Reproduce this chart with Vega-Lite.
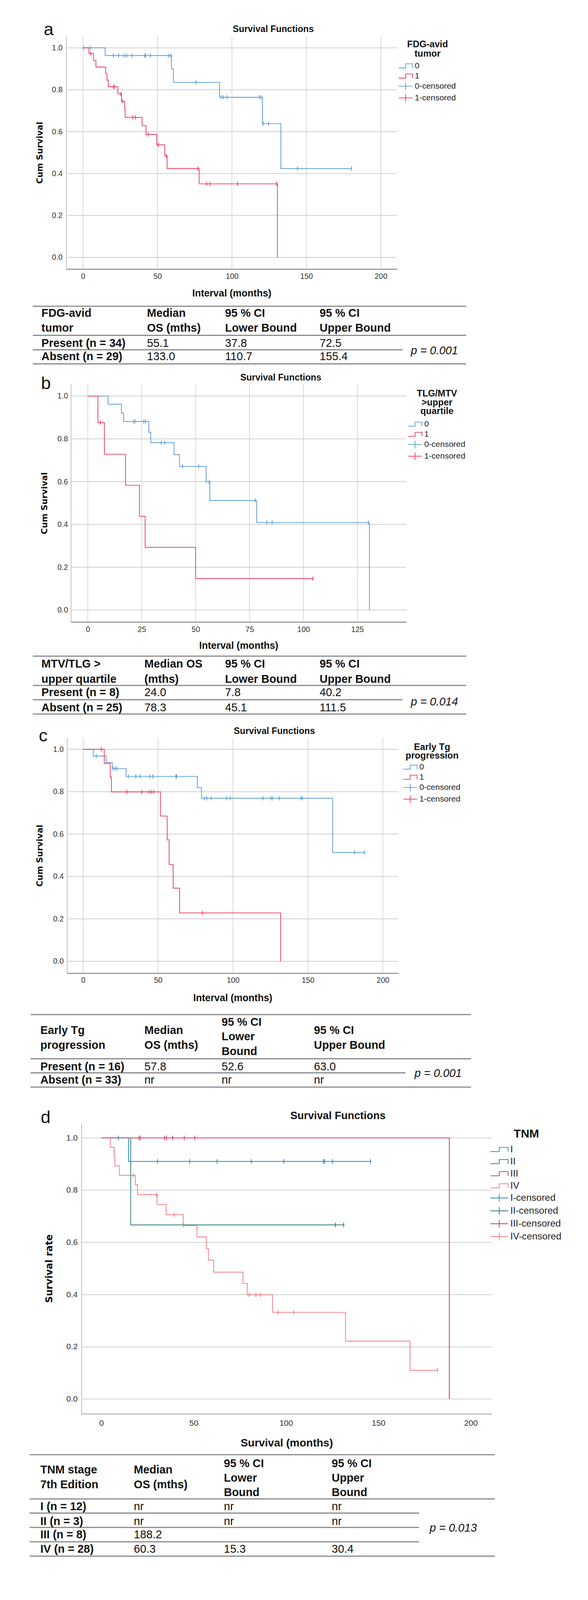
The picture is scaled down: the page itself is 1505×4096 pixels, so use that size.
{
"$schema": "https://vega.github.io/schema/vega-lite/v6.json",
"background": "white",
"autosize": {"type": "pad"},
"padding": {"left": 74.3, "top": 0, "right": 0, "bottom": 0},
"config": {
  "font": "Liberation Sans",
  "view": {"stroke": null},
  "axis": {"ticks": false, "grid": false, "labelColor": "#333333", "titleColor": "#111111", "titleFontWeight": "bold", "labelFont": "Liberation Sans", "labelOverlap": false, "labelFlush": false},
  "legend": {"labelFont": "Liberation Sans", "titleFont": "Liberation Sans", "labelColor": "#222222", "titleColor": "#111111", "padding": 0, "symbolStrokeWidth": 1.8, "symbolFillColor": "transparent"},
  "text": {"color": "#111111", "font": "Liberation Sans"}
},
"spacing": 0,
"bounds": "full",
"resolve": {"scale": {"x": "independent", "y": "independent", "color": "independent", "shape": "independent"}, "axis": {"x": "independent", "y": "independent"}, "legend": {"color": "independent", "shape": "independent"}},
"vconcat": [
{
  "spacing": 0, "bounds": "flush",
  "resolve": {"scale": {"x": "independent", "y": "independent"}, "axis": {"x": "independent", "y": "independent"}},
  "hconcat": [
    {
      "width": 94.5, "height": 947.2,
      "data": {"values": [
        {"kind":"letter","text":"a","col":8,"row":9},
        {"kind":"title","text":"Survival Functions","col":9,"row":10},
        {"kind":"rule","row":0,"col":0,"col2":7},{"kind":"rule","row":3,"col":0,"col2":7},{"kind":"rule","row":5,"col":0,"col2":5},{"kind":"rule","row":7,"col":0,"col2":7},
        {"kind":"head","row":1,"col":1,"text":"FDG-avid"},{"kind":"head","row":2,"col":1,"text":"tumor"},{"kind":"head","row":1,"col":2,"text":"Median"},{"kind":"head","row":2,"col":2,"text":"OS (mths)"},{"kind":"head","row":1,"col":3,"text":"95 % CI"},{"kind":"head","row":2,"col":3,"text":"Lower Bound"},{"kind":"head","row":1,"col":4,"text":"95 % CI"},{"kind":"head","row":2,"col":4,"text":"Upper Bound"},
        {"kind":"label","row":4,"col":1,"text":"Present (n = 34)"},{"kind":"label","row":6,"col":1,"text":"Absent (n = 29)"},
        {"kind":"value","row":4,"col":2,"text":"55.1"},{"kind":"value","row":4,"col":3,"text":"37.8"},{"kind":"value","row":4,"col":4,"text":"72.5"},
        {"kind":"value","row":6,"col":2,"text":"133.0"},{"kind":"value","row":6,"col":3,"text":"110.7"},{"kind":"value","row":6,"col":4,"text":"155.4"},
        {"kind":"p","row":8,"col":6,"text":"p = 0.001"}
      ]},
      "encoding": {
        "x": {"field": "col", "type": "quantitative", "scale": {"domain": [0,1,2,3,4,5,6,7,8,9], "range": [9.6,31.8,301.9,501.6,743.7,956.0,977.2,1119.0,37.7,625.1], "nice": false, "zero": false}, "axis": null},
        "y": {"field": "row", "type": "quantitative", "scale": {"domain": [0,1,2,3,4,5,6,7,8,9,10], "range": [783.9,802.3,840.1,858.5,879.0,895.5,913.2,931.4,897.8,90.0,81.9], "nice": false, "zero": false}, "axis": null}
      },
      "layer": [
        {"transform": [{"filter": "datum.kind === 'rule'"}], "mark": {"type": "rule", "strokeWidth": 3, "stroke": "#8a8a8a"}, "encoding": {"x2": {"field": "col2"}}},
        {"transform": [{"filter": "datum.kind === 'head' || datum.kind === 'label'"}], "mark": {"type": "text", "align": "left", "baseline": "middle", "fontSize": 28.8, "fontWeight": "bold"}, "encoding": {"text": {"field": "text"}}},
        {"transform": [{"filter": "datum.kind === 'value'"}], "mark": {"type": "text", "align": "left", "baseline": "middle", "fontSize": 28.8}, "encoding": {"text": {"field": "text"}}},
        {"transform": [{"filter": "datum.kind === 'p'"}], "mark": {"type": "text", "align": "left", "baseline": "middle", "fontSize": 28.8, "fontStyle": "italic"}, "encoding": {"text": {"field": "text"}}},
        {"transform": [{"filter": "datum.kind === 'letter'"}], "mark": {"type": "text", "align": "left", "baseline": "alphabetic", "fontSize": 45}, "encoding": {"text": {"field": "text"}}},
        {"transform": [{"filter": "datum.kind === 'title'"}], "mark": {"type": "text", "align": "center", "baseline": "alphabetic", "fontSize": 23.2, "fontWeight": "bold"}, "encoding": {"text": {"field": "text"}}}
      ]
    },
    {
      "width": 847.0, "height": 947.2,
      "encoding": {
        "x": {"field": "t", "type": "quantitative", "scale": {"domain": [-11.3, 210.9], "nice": false, "zero": false},
              "axis": {"values": [0, 50, 100, 150, 200], "format": "d", "title": "Interval (months)", "offset": -258.4, "domainColor": "#707070", "domainWidth": 2, "labelFontSize": 19.5, "labelPadding": 9.3, "titleFontSize": 25, "titlePadding": 21.9}},
        "y": {"field": "s", "type": "quantitative", "scale": {"domain": [-0.0557, 1.0557], "range": [688.8, 92.5], "nice": false, "zero": false},
              "axis": {"values": [0, 0.2, 0.4, 0.6, 0.8, 1], "format": ".1f", "title": "Cum Survival", "domainColor": "#a9a9a9", "domainWidth": 1.4, "labelFontSize": 19.5, "labelPadding": 9.6, "titleFont": "DejaVu Sans", "titleFontSize": 21.4, "titlePadding": 20.2}}
      },
      "layer": [
        {"data": {"values": [{"s":0,"t":-11.3,"t2":210.9},{"s":0.2,"t":-11.3,"t2":210.9},{"s":0.4,"t":-11.3,"t2":210.9},{"s":0.6,"t":-11.3,"t2":210.9},{"s":0.8,"t":-11.3,"t2":210.9},{"s":1,"t":-11.3,"t2":210.9}]}, "mark": {"type": "rule", "stroke": "#cfcfcf", "strokeWidth": 2}, "encoding": {"x2": {"field": "t2"}}},
        {"data": {"values": [{"t":0,"s":-0.0557,"s2":1.0557},{"t":50,"s":-0.0557,"s2":1.0557},{"t":100,"s":-0.0557,"s2":1.0557},{"t":150,"s":-0.0557,"s2":1.0557},{"t":200,"s":-0.0557,"s2":1.0557}]}, "mark": {"type": "rule", "stroke": "#cfcfcf", "strokeWidth": 1.5}, "encoding": {"y2": {"field": "s2"}}},
        {
          "data": {"values": [
            {"grp":"0","t":0,"s":1},{"grp":"0","t":14.9,"s":0.963},{"grp":"0","t":59.5,"s":0.899},{"grp":"0","t":60.7,"s":0.835},{"grp":"0","t":91.7,"s":0.764},{"grp":"0","t":120.5,"s":0.638},{"grp":"0","t":132.9,"s":0.424},{"grp":"0","t":180.3,"s":0.424},
            {"grp":"1","t":0,"s":1},{"grp":"1","t":4.0,"s":0.973},{"grp":"1","t":7.1,"s":0.939},{"grp":"1","t":8.7,"s":0.908},{"grp":"1","t":15.2,"s":0.877},{"grp":"1","t":16.1,"s":0.846},{"grp":"1","t":17.0,"s":0.814},{"grp":"1","t":23.4,"s":0.781},{"grp":"1","t":25.9,"s":0.745},{"grp":"1","t":28.0,"s":0.707},{"grp":"1","t":28.3,"s":0.668},{"grp":"1","t":39.7,"s":0.629},{"grp":"1","t":42.3,"s":0.587},{"grp":"1","t":49.6,"s":0.537},{"grp":"1","t":54.9,"s":0.484},{"grp":"1","t":56.5,"s":0.424},{"grp":"1","t":78.0,"s":0.351},{"grp":"1","t":130.6,"s":0}
          ]},
          "mark": {"type": "line", "interpolate": "step-after", "strokeWidth": 1.9},
          "encoding": {"color": {"field": "grp", "type": "nominal",
            "scale": {"domain": ["0","1","0-censored","1-censored"], "range": ["#5b9bd5","#ec3a5e","#5b9bd5","#ec3a5e"]},
            "legend": {"title": ["FDG-avid","tumor"], "orient": "none", "legendX": 948.0, "legendY": 102.3, "titleFontSize": 23.5, "titleFontWeight": "bold", "titleLineHeight": 23.4, "titleAnchor": "middle", "titleAlign": "center", "titlePadding": 3.5, "labelFontSize": 21, "labelOffset": 7.5, "symbolSize": 900, "rowPadding": 0}}}
        },
        {
          "data": {"values": [
            {"grp":"0-censored","t":0.3,"s":1},{"grp":"0-censored","t":5.1,"s":1},{"grp":"0-censored","t":20.4,"s":0.963},{"grp":"0-censored","t":23.9,"s":0.963},{"grp":"0-censored","t":27.6,"s":0.963},{"grp":"0-censored","t":29.4,"s":0.963},{"grp":"0-censored","t":32.8,"s":0.963},{"grp":"0-censored","t":41.5,"s":0.963},{"grp":"0-censored","t":42.1,"s":0.963},{"grp":"0-censored","t":45.2,"s":0.963},{"grp":"0-censored","t":57.3,"s":0.963},{"grp":"0-censored","t":58.9,"s":0.963},{"grp":"0-censored","t":75.9,"s":0.835},{"grp":"0-censored","t":92.9,"s":0.764},{"grp":"0-censored","t":94.2,"s":0.764},{"grp":"0-censored","t":96.7,"s":0.764},{"grp":"0-censored","t":118.5,"s":0.764},{"grp":"0-censored","t":119.5,"s":0.764},{"grp":"0-censored","t":121.0,"s":0.638},{"grp":"0-censored","t":124.6,"s":0.638},{"grp":"0-censored","t":144.1,"s":0.424},{"grp":"0-censored","t":180.3,"s":0.424},
            {"grp":"1-censored","t":5.1,"s":0.973},{"grp":"1-censored","t":20.4,"s":0.814},{"grp":"1-censored","t":21.1,"s":0.814},{"grp":"1-censored","t":25.4,"s":0.781},{"grp":"1-censored","t":26.3,"s":0.745},{"grp":"1-censored","t":33.5,"s":0.668},{"grp":"1-censored","t":35.3,"s":0.668},{"grp":"1-censored","t":43.8,"s":0.587},{"grp":"1-censored","t":50.6,"s":0.537},{"grp":"1-censored","t":55.9,"s":0.484},{"grp":"1-censored","t":77.2,"s":0.424},{"grp":"1-censored","t":83.0,"s":0.351},{"grp":"1-censored","t":85.3,"s":0.351},{"grp":"1-censored","t":103.8,"s":0.351},{"grp":"1-censored","t":130.1,"s":0.351}
          ]},
          "mark": {"type": "point", "shape": "M0,-1V1M-0.3,0H0.3", "filled": false, "size": 121, "strokeWidth": 1.8, "opacity": 1},
          "encoding": {"color": {"field": "grp", "type": "nominal", "scale": {"domain": ["0","1","0-censored","1-censored"], "range": ["#5b9bd5","#ec3a5e","#5b9bd5","#ec3a5e"]}, "legend": null}}
        },
        {
          "data": {"values": []},
          "mark": {"type": "point", "filled": false, "strokeWidth": 1.8, "opacity": 1},
          "encoding": {
            "color": {"field": "grp", "type": "nominal",
              "scale": {"domain": ["0","1","0-censored","1-censored"], "range": ["#5b9bd5","#ec3a5e","#5b9bd5","#ec3a5e"]},
              "legend": {"title": ["FDG-avid","tumor"], "orient": "none", "legendX": 948.0, "legendY": 102.3, "titleFontSize": 23.5, "titleFontWeight": "bold", "titleLineHeight": 23.4, "titleAnchor": "middle", "titleAlign": "center", "titlePadding": 3.5, "labelFontSize": 21, "labelOffset": 7.5, "symbolSize": 900, "rowPadding": 0}},
            "shape": {"field": "grp", "type": "nominal",
              "scale": {"domain": ["0","1","0-censored","1-censored"], "range": ["M-1.18,0.354H0V-0.354H1.18V0.354","M-1.18,0.354H0V-0.354H1.18V0.354","M-1.18,0H1.18M0,-0.65V0.65","M-1.18,0H1.18M0,-0.65V0.65"]},
              "legend": {"title": ["FDG-avid","tumor"], "orient": "none", "legendX": 948.0, "legendY": 102.3, "titleFontSize": 23.5, "titleFontWeight": "bold", "titleLineHeight": 23.4, "titleAnchor": "middle", "titleAlign": "center", "titlePadding": 3.5, "labelFontSize": 21, "labelOffset": 7.5, "symbolSize": 900, "rowPadding": 0}}
          }
        }
      ]
    }
  ]
},
{
  "spacing": 0, "bounds": "flush",
  "resolve": {"scale": {"x": "independent", "y": "independent"}, "axis": {"x": "independent", "y": "independent"}},
  "hconcat": [
    {
      "width": 107.0, "height": 896.9,
      "data": {"values": [
        {"kind":"letter","text":"b","col":8,"row":9},
        {"kind":"title","text":"Survival Functions","col":9,"row":10},
        {"kind":"rule","row":0,"col":0,"col2":7},{"kind":"rule","row":3,"col":0,"col2":7},{"kind":"rule","row":5,"col":0,"col2":5},{"kind":"rule","row":7,"col":0,"col2":7},
        {"kind":"head","row":1,"col":1,"text":"MTV/TLG >"},{"kind":"head","row":2,"col":1,"text":"upper quartile"},{"kind":"head","row":1,"col":2,"text":"Median OS"},{"kind":"head","row":2,"col":2,"text":"(mths)"},{"kind":"head","row":1,"col":3,"text":"95 % CI"},{"kind":"head","row":2,"col":3,"text":"Lower Bound"},{"kind":"head","row":1,"col":4,"text":"95 % CI"},{"kind":"head","row":2,"col":4,"text":"Upper Bound"},
        {"kind":"label","row":4,"col":1,"text":"Present (n = 8)"},{"kind":"label","row":6,"col":1,"text":"Absent (n = 25)"},
        {"kind":"value","row":4,"col":2,"text":"24.0"},{"kind":"value","row":4,"col":3,"text":"7.8"},{"kind":"value","row":4,"col":4,"text":"40.2"},
        {"kind":"value","row":6,"col":2,"text":"78.3"},{"kind":"value","row":6,"col":3,"text":"45.1"},{"kind":"value","row":6,"col":4,"text":"111.5"},
        {"kind":"p","row":8,"col":6,"text":"p = 0.014"}
      ]},
      "encoding": {
        "x": {"field": "col", "type": "quantitative", "scale": {"domain": [0,1,2,3,4,5,6,7,8,9], "range": [9.6,31.8,295.2,501.6,743.7,956.0,977.2,1119.0,30.7,644.4], "nice": false, "zero": false}, "axis": null},
        "y": {"field": "row", "type": "quantitative", "scale": {"domain": [0,1,2,3,4,5,6,7,8,9,10], "range": [731.8,751.8,790.7,806.8,824.9,843.3,863.9,879.9,848.6,48.1,26.3], "nice": false, "zero": false}, "axis": null}
      },
      "layer": [
        {"transform": [{"filter": "datum.kind === 'rule'"}], "mark": {"type": "rule", "strokeWidth": 3, "stroke": "#8a8a8a"}, "encoding": {"x2": {"field": "col2"}}},
        {"transform": [{"filter": "datum.kind === 'head' || datum.kind === 'label'"}], "mark": {"type": "text", "align": "left", "baseline": "middle", "fontSize": 28.8, "fontWeight": "bold"}, "encoding": {"text": {"field": "text"}}},
        {"transform": [{"filter": "datum.kind === 'value'"}], "mark": {"type": "text", "align": "left", "baseline": "middle", "fontSize": 28.8}, "encoding": {"text": {"field": "text"}}},
        {"transform": [{"filter": "datum.kind === 'p'"}], "mark": {"type": "text", "align": "left", "baseline": "middle", "fontSize": 28.8, "fontStyle": "italic"}, "encoding": {"text": {"field": "text"}}},
        {"transform": [{"filter": "datum.kind === 'letter'"}], "mark": {"type": "text", "align": "left", "baseline": "alphabetic", "fontSize": 45}, "encoding": {"text": {"field": "text"}}},
        {"transform": [{"filter": "datum.kind === 'title'"}], "mark": {"type": "text", "align": "center", "baseline": "alphabetic", "fontSize": 23.2, "fontWeight": "bold"}, "encoding": {"text": {"field": "text"}}}
      ]
    },
    {
      "width": 858.6, "height": 896.9,
      "encoding": {
        "x": {"field": "t", "type": "quantitative", "scale": {"domain": [-7.86, 147.7], "nice": false, "zero": false},
              "axis": {"values": [0, 25, 50, 75, 100, 125], "format": "d", "title": "Interval (months)", "offset": -252.7, "domainColor": "#707070", "domainWidth": 2, "labelFontSize": 19.5, "labelPadding": 9.9, "titleFontSize": 25, "titlePadding": 20.3}},
        "y": {"field": "s", "type": "quantitative", "scale": {"domain": [-0.0556, 1.0556], "range": [644.2, 35.4], "nice": false, "zero": false},
              "axis": {"values": [0, 0.2, 0.4, 0.6, 0.8, 1], "format": ".1f", "title": "Cum Survival", "domainColor": "#a9a9a9", "domainWidth": 1.4, "labelFontSize": 19.5, "labelPadding": 7.7, "titleFont": "DejaVu Sans", "titleFontSize": 21.4, "titlePadding": 22.0}}
      },
      "layer": [
        {"data": {"values": [{"s":0,"t":-7.86,"t2":147.7},{"s":0.2,"t":-7.86,"t2":147.7},{"s":0.4,"t":-7.86,"t2":147.7},{"s":0.6,"t":-7.86,"t2":147.7},{"s":0.8,"t":-7.86,"t2":147.7},{"s":1,"t":-7.86,"t2":147.7}]}, "mark": {"type": "rule", "stroke": "#cfcfcf", "strokeWidth": 2}, "encoding": {"x2": {"field": "t2"}}},
        {"data": {"values": [{"t":0,"s":-0.0556,"s2":1.0556},{"t":25,"s":-0.0556,"s2":1.0556},{"t":50,"s":-0.0556,"s2":1.0556},{"t":75,"s":-0.0556,"s2":1.0556},{"t":100,"s":-0.0556,"s2":1.0556},{"t":125,"s":-0.0556,"s2":1.0556}]}, "mark": {"type": "rule", "stroke": "#cfcfcf", "strokeWidth": 1.5}, "encoding": {"y2": {"field": "s2"}}},
        {
          "data": {"values": [
            {"grp":"0","t":0,"s":1},{"grp":"0","t":9.4,"s":0.962},{"grp":"0","t":15.6,"s":0.92},{"grp":"0","t":16.6,"s":0.881},{"grp":"0","t":28.3,"s":0.831},{"grp":"0","t":29.2,"s":0.782},{"grp":"0","t":40.0,"s":0.726},{"grp":"0","t":42.5,"s":0.671},{"grp":"0","t":54.9,"s":0.599},{"grp":"0","t":56.6,"s":0.512},{"grp":"0","t":78.3,"s":0.409},{"grp":"0","t":130.6,"s":0},
            {"grp":"1","t":0,"s":1},{"grp":"1","t":4.7,"s":0.876},{"grp":"1","t":7.7,"s":0.728},{"grp":"1","t":17.5,"s":0.583},{"grp":"1","t":24.0,"s":0.438},{"grp":"1","t":26.6,"s":0.293},{"grp":"1","t":50.0,"s":0.147},{"grp":"1","t":104.4,"s":0.147}
          ]},
          "mark": {"type": "line", "interpolate": "step-after", "strokeWidth": 1.9},
          "encoding": {"color": {"field": "grp", "type": "nominal",
            "scale": {"domain": ["0","1","0-censored","1-censored"], "range": ["#5b9bd5","#ec3a5e","#5b9bd5","#ec3a5e"]},
            "legend": {"title": ["TLG/MTV",">upper","quartile"], "orient": "none", "legendX": 972.1, "legendY": 48.4, "titleFontSize": 23.5, "titleFontWeight": "bold", "titleLineHeight": 22.5, "titleAnchor": "middle", "titleAlign": "center", "titlePadding": 5, "labelFontSize": 21, "labelOffset": 7.5, "symbolSize": 900, "rowPadding": 0}}}
        },
        {
          "data": {"values": [
            {"grp":"0-censored","t":21.3,"s":0.881},{"grp":"0-censored","t":21.9,"s":0.881},{"grp":"0-censored","t":25.9,"s":0.881},{"grp":"0-censored","t":26.7,"s":0.881},{"grp":"0-censored","t":34.1,"s":0.782},{"grp":"0-censored","t":35.7,"s":0.782},{"grp":"0-censored","t":43.9,"s":0.671},{"grp":"0-censored","t":51.4,"s":0.671},{"grp":"0-censored","t":56.3,"s":0.599},{"grp":"0-censored","t":77.6,"s":0.512},{"grp":"0-censored","t":83.0,"s":0.409},{"grp":"0-censored","t":85.5,"s":0.409},{"grp":"0-censored","t":130.1,"s":0.409},
            {"grp":"1-censored","t":5.8,"s":0.876},{"grp":"1-censored","t":104.4,"s":0.147}
          ]},
          "mark": {"type": "point", "shape": "M0,-1V1M-0.3,0H0.3", "filled": false, "size": 121, "strokeWidth": 1.8, "opacity": 1},
          "encoding": {"color": {"field": "grp", "type": "nominal", "scale": {"domain": ["0","1","0-censored","1-censored"], "range": ["#5b9bd5","#ec3a5e","#5b9bd5","#ec3a5e"]}, "legend": null}}
        },
        {
          "data": {"values": []},
          "mark": {"type": "point", "filled": false, "strokeWidth": 1.8, "opacity": 1},
          "encoding": {
            "color": {"field": "grp", "type": "nominal",
              "scale": {"domain": ["0","1","0-censored","1-censored"], "range": ["#5b9bd5","#ec3a5e","#5b9bd5","#ec3a5e"]},
              "legend": {"title": ["TLG/MTV",">upper","quartile"], "orient": "none", "legendX": 972.1, "legendY": 48.4, "titleFontSize": 23.5, "titleFontWeight": "bold", "titleLineHeight": 22.5, "titleAnchor": "middle", "titleAlign": "center", "titlePadding": 5, "labelFontSize": 21, "labelOffset": 7.5, "symbolSize": 900, "rowPadding": 0}},
            "shape": {"field": "grp", "type": "nominal",
              "scale": {"domain": ["0","1","0-censored","1-censored"], "range": ["M-1.18,0.354H0V-0.354H1.18V0.354","M-1.18,0.354H0V-0.354H1.18V0.354","M-1.18,0H1.18M0,-0.65V0.65","M-1.18,0H1.18M0,-0.65V0.65"]},
              "legend": {"title": ["TLG/MTV",">upper","quartile"], "orient": "none", "legendX": 972.1, "legendY": 48.4, "titleFontSize": 23.5, "titleFontWeight": "bold", "titleLineHeight": 22.5, "titleAnchor": "middle", "titleAlign": "center", "titlePadding": 5, "labelFontSize": 21, "labelOffset": 7.5, "symbolSize": 900, "rowPadding": 0}}
          }
        }
      ]
    }
  ]
},
{
  "spacing": 0, "bounds": "flush",
  "resolve": {"scale": {"x": "independent", "y": "independent"}, "axis": {"x": "independent", "y": "independent"}},
  "hconcat": [
    {
      "width": 96.4, "height": 969.8,
      "data": {"values": [
        {"kind":"letter","text":"c","col":8,"row":12},
        {"kind":"title","text":"Survival Functions","col":9,"row":13},
        {"kind":"rule","row":0,"col":0,"col2":7},{"kind":"rule","row":6,"col":0,"col2":7},{"kind":"rule","row":8,"col":0,"col2":5},{"kind":"rule","row":10,"col":0,"col2":7},
        {"kind":"head","row":2,"col":1,"text":"Early Tg"},{"kind":"head","row":4,"col":1,"text":"progression"},{"kind":"head","row":2,"col":2,"text":"Median"},{"kind":"head","row":4,"col":2,"text":"OS (mths)"},{"kind":"head","row":1,"col":3,"text":"95 % CI"},{"kind":"head","row":3,"col":3,"text":"Lower"},{"kind":"head","row":5,"col":3,"text":"Bound"},{"kind":"head","row":2,"col":4,"text":"95 % CI"},{"kind":"head","row":4,"col":4,"text":"Upper Bound"},
        {"kind":"label","row":7,"col":1,"text":"Present (n = 16)"},{"kind":"label","row":9,"col":1,"text":"Absent (n = 33)"},
        {"kind":"value","row":7,"col":2,"text":"57.8"},{"kind":"value","row":7,"col":3,"text":"52.6"},{"kind":"value","row":7,"col":4,"text":"63.0"},
        {"kind":"value","row":9,"col":2,"text":"nr"},{"kind":"value","row":9,"col":3,"text":"nr"},{"kind":"value","row":9,"col":4,"text":"nr"},
        {"kind":"p","row":11,"col":6,"text":"p = 0.001"}
      ]},
      "encoding": {
        "x": {"field": "col", "type": "quantitative", "scale": {"domain": [0,1,2,3,4,5,6,7,8,9], "range": [3.8,28.9,295.2,492.9,729.3,963.7,986.8,1131.6,25.0,628.0], "nice": false, "zero": false}, "axis": null},
        "y": {"field": "row", "type": "quantitative", "scale": {"domain": [0,1,2,3,4,5,6,7,8,9,10,11,12,13], "range": [752.3,771.6,792.8,809.3,830.6,847.1,865.6,886.1,901.4,920.3,938.0,902.6,53.1,34.3], "nice": false, "zero": false}, "axis": null}
      },
      "layer": [
        {"transform": [{"filter": "datum.kind === 'rule'"}], "mark": {"type": "rule", "strokeWidth": 3, "stroke": "#8a8a8a"}, "encoding": {"x2": {"field": "col2"}}},
        {"transform": [{"filter": "datum.kind === 'head' || datum.kind === 'label'"}], "mark": {"type": "text", "align": "left", "baseline": "middle", "fontSize": 28.8, "fontWeight": "bold"}, "encoding": {"text": {"field": "text"}}},
        {"transform": [{"filter": "datum.kind === 'value'"}], "mark": {"type": "text", "align": "left", "baseline": "middle", "fontSize": 28.8}, "encoding": {"text": {"field": "text"}}},
        {"transform": [{"filter": "datum.kind === 'p'"}], "mark": {"type": "text", "align": "left", "baseline": "middle", "fontSize": 28.8, "fontStyle": "italic"}, "encoding": {"text": {"field": "text"}}},
        {"transform": [{"filter": "datum.kind === 'letter'"}], "mark": {"type": "text", "align": "left", "baseline": "alphabetic", "fontSize": 45}, "encoding": {"text": {"field": "text"}}},
        {"transform": [{"filter": "datum.kind === 'title'"}], "mark": {"type": "text", "align": "center", "baseline": "alphabetic", "fontSize": 23.2, "fontWeight": "bold"}, "encoding": {"text": {"field": "text"}}}
      ]
    },
    {
      "width": 848.0, "height": 969.8,
      "encoding": {
        "x": {"field": "t", "type": "quantitative", "scale": {"domain": [-10.8, 210.3], "nice": false, "zero": false},
              "axis": {"values": [0, 50, 100, 150, 200], "format": "d", "title": "Interval (months)", "offset": -323.5, "domainColor": "#707070", "domainWidth": 2, "labelFontSize": 19.5, "labelPadding": 9.1, "titleFontSize": 25, "titlePadding": 23.5}},
        "y": {"field": "s", "type": "quantitative", "scale": {"domain": [-0.056, 1.054], "range": [646.3, 43.9], "nice": false, "zero": false},
              "axis": {"values": [0, 0.2, 0.4, 0.6, 0.8, 1], "format": ".1f", "title": "Cum Survival", "domainColor": "#a9a9a9", "domainWidth": 1.4, "labelFontSize": 19.5, "labelPadding": 8.6, "titleFont": "DejaVu Sans", "titleFontSize": 21.4, "titlePadding": 23.0}}
      },
      "layer": [
        {"data": {"values": [{"s":0,"t":-10.8,"t2":210.3},{"s":0.2,"t":-10.8,"t2":210.3},{"s":0.4,"t":-10.8,"t2":210.3},{"s":0.6,"t":-10.8,"t2":210.3},{"s":0.8,"t":-10.8,"t2":210.3},{"s":1,"t":-10.8,"t2":210.3}]}, "mark": {"type": "rule", "stroke": "#cfcfcf", "strokeWidth": 2}, "encoding": {"x2": {"field": "t2"}}},
        {"data": {"values": [{"t":0,"s":-0.056,"s2":1.054},{"t":50,"s":-0.056,"s2":1.054},{"t":100,"s":-0.056,"s2":1.054},{"t":150,"s":-0.056,"s2":1.054},{"t":200,"s":-0.056,"s2":1.054}]}, "mark": {"type": "rule", "stroke": "#cfcfcf", "strokeWidth": 1.5}, "encoding": {"y2": {"field": "s2"}}},
        {
          "data": {"values": [
            {"grp":"0","t":0,"s":1},{"grp":"0","t":6.8,"s":0.968},{"grp":"0","t":15.3,"s":0.938},{"grp":"0","t":19.4,"s":0.909},{"grp":"0","t":28.7,"s":0.872},{"grp":"0","t":76.2,"s":0.819},{"grp":"0","t":79.0,"s":0.769},{"grp":"0","t":166.5,"s":0.513},{"grp":"0","t":187.7,"s":0.513},
            {"grp":"1","t":0,"s":1},{"grp":"1","t":14.1,"s":0.933},{"grp":"1","t":18.1,"s":0.869},{"grp":"1","t":18.9,"s":0.799},{"grp":"1","t":51.6,"s":0.685},{"grp":"1","t":56.1,"s":0.573},{"grp":"1","t":57.4,"s":0.457},{"grp":"1","t":60.1,"s":0.345},{"grp":"1","t":64.4,"s":0.228},{"grp":"1","t":131.8,"s":0}
          ]},
          "mark": {"type": "line", "interpolate": "step-after", "strokeWidth": 1.9},
          "encoding": {"color": {"field": "grp", "type": "nominal",
            "scale": {"domain": ["0","1","0-censored","1-censored"], "range": ["#5b9bd5","#ec3a5e","#5b9bd5","#ec3a5e"]},
            "legend": {"title": ["Early Tg","progression"], "orient": "none", "legendX": 959.6, "legendY": 55.5, "titleFontSize": 23.5, "titleFontWeight": "bold", "titleLineHeight": 22.4, "titleAnchor": "middle", "titleAlign": "center", "titlePadding": 1.5, "labelFontSize": 21, "labelOffset": 7.5, "symbolSize": 900, "rowPadding": 0}}}
        },
        {
          "data": {"values": [
            {"grp":"0-censored","t":8.8,"s":0.968},{"grp":"0-censored","t":20.1,"s":0.909},{"grp":"0-censored","t":21.4,"s":0.909},{"grp":"0-censored","t":22.6,"s":0.909},{"grp":"0-censored","t":30.2,"s":0.872},{"grp":"0-censored","t":35.2,"s":0.872},{"grp":"0-censored","t":38.0,"s":0.872},{"grp":"0-censored","t":44.5,"s":0.872},{"grp":"0-censored","t":46.5,"s":0.872},{"grp":"0-censored","t":61.9,"s":0.872},{"grp":"0-censored","t":62.4,"s":0.872},{"grp":"0-censored","t":80.8,"s":0.769},{"grp":"0-censored","t":82.5,"s":0.769},{"grp":"0-censored","t":85.5,"s":0.769},{"grp":"0-censored","t":95.6,"s":0.769},{"grp":"0-censored","t":98.1,"s":0.769},{"grp":"0-censored","t":120.0,"s":0.769},{"grp":"0-censored","t":125.3,"s":0.769},{"grp":"0-censored","t":126.3,"s":0.769},{"grp":"0-censored","t":130.8,"s":0.769},{"grp":"0-censored","t":145.4,"s":0.769},{"grp":"0-censored","t":146.4,"s":0.769},{"grp":"0-censored","t":181.1,"s":0.513},{"grp":"0-censored","t":187.7,"s":0.513},
            {"grp":"1-censored","t":12.1,"s":1},{"grp":"1-censored","t":29.2,"s":0.799},{"grp":"1-censored","t":39.2,"s":0.799},{"grp":"1-censored","t":44.0,"s":0.799},{"grp":"1-censored","t":45.5,"s":0.799},{"grp":"1-censored","t":47.0,"s":0.799},{"grp":"1-censored","t":79.7,"s":0.228}
          ]},
          "mark": {"type": "point", "shape": "M0,-1V1M-0.3,0H0.3", "filled": false, "size": 121, "strokeWidth": 1.8, "opacity": 1},
          "encoding": {"color": {"field": "grp", "type": "nominal", "scale": {"domain": ["0","1","0-censored","1-censored"], "range": ["#5b9bd5","#ec3a5e","#5b9bd5","#ec3a5e"]}, "legend": null}}
        },
        {
          "data": {"values": []},
          "mark": {"type": "point", "filled": false, "strokeWidth": 1.8, "opacity": 1},
          "encoding": {
            "color": {"field": "grp", "type": "nominal",
              "scale": {"domain": ["0","1","0-censored","1-censored"], "range": ["#5b9bd5","#ec3a5e","#5b9bd5","#ec3a5e"]},
              "legend": {"title": ["Early Tg","progression"], "orient": "none", "legendX": 959.6, "legendY": 55.5, "titleFontSize": 23.5, "titleFontWeight": "bold", "titleLineHeight": 22.4, "titleAnchor": "middle", "titleAlign": "center", "titlePadding": 1.5, "labelFontSize": 21, "labelOffset": 7.5, "symbolSize": 900, "rowPadding": 0}},
            "shape": {"field": "grp", "type": "nominal",
              "scale": {"domain": ["0","1","0-censored","1-censored"], "range": ["M-1.18,0.354H0V-0.354H1.18V0.354","M-1.18,0.354H0V-0.354H1.18V0.354","M-1.18,0H1.18M0,-0.65V0.65","M-1.18,0H1.18M0,-0.65V0.65"]},
              "legend": {"title": ["Early Tg","progression"], "orient": "none", "legendX": 959.6, "legendY": 55.5, "titleFontSize": 23.5, "titleFontWeight": "bold", "titleLineHeight": 22.4, "titleAnchor": "middle", "titleAlign": "center", "titlePadding": 1.5, "labelFontSize": 21, "labelOffset": 7.5, "symbolSize": 900, "rowPadding": 0}}
          }
        }
      ]
    }
  ]
},
{
  "spacing": 0, "bounds": "flush",
  "resolve": {"scale": {"x": "independent", "y": "independent"}, "axis": {"x": "independent", "y": "independent"}},
  "hconcat": [
    {
      "width": 133.1, "height": 1282.0,
      "data": {"values": [
        {"kind":"letter","text":"d","col":8,"row":16},
        {"kind":"title","text":"Survival Functions","col":9,"row":17},
        {"kind":"rule","row":0,"col":0,"col2":7},{"kind":"rule","row":6,"col":0,"col2":7},{"kind":"rule","row":8,"col":0,"col2":5},{"kind":"rule","row":10,"col":0,"col2":5},{"kind":"rule","row":12,"col":0,"col2":5},{"kind":"rule","row":14,"col":0,"col2":7},
        {"kind":"head","row":2,"col":1,"text":"TNM stage"},{"kind":"head","row":4,"col":1,"text":"7th Edition"},{"kind":"head","row":2,"col":2,"text":"Median"},{"kind":"head","row":4,"col":2,"text":"OS (mths)"},{"kind":"head","row":1,"col":3,"text":"95 % CI"},{"kind":"head","row":3,"col":3,"text":"Lower"},{"kind":"head","row":5,"col":3,"text":"Bound"},{"kind":"head","row":1,"col":4,"text":"95 % CI"},{"kind":"head","row":3,"col":4,"text":"Upper"},{"kind":"head","row":5,"col":4,"text":"Bound"},
        {"kind":"label","row":7,"col":1,"text":"I (n = 12)"},{"kind":"label","row":9,"col":1,"text":"II (n = 3)"},{"kind":"label","row":11,"col":1,"text":"III (n = 8)"},{"kind":"label","row":13,"col":1,"text":"IV (n = 28)"},
        {"kind":"value","row":7,"col":2,"text":"nr"},{"kind":"value","row":7,"col":3,"text":"nr"},{"kind":"value","row":7,"col":4,"text":"nr"},
        {"kind":"value","row":9,"col":2,"text":"nr"},{"kind":"value","row":9,"col":3,"text":"nr"},{"kind":"value","row":9,"col":4,"text":"nr"},
        {"kind":"value","row":11,"col":2,"text":"188.2"},
        {"kind":"value","row":13,"col":2,"text":"60.3"},{"kind":"value","row":13,"col":3,"text":"15.3"},{"kind":"value","row":13,"col":4,"text":"30.4"},
        {"kind":"p","row":15,"col":6,"text":"p = 0.013"}
      ]},
      "encoding": {
        "x": {"field": "col", "type": "quantitative", "scale": {"domain": [0,1,2,3,4,5,6,7,8,9], "range": [1.6,28.9,268.2,498.7,774.6,998.4,1025.5,1192.3,30.0,790.7], "nice": false, "zero": false}, "axis": null},
        "y": {"field": "row", "type": "quantitative", "scale": {"domain": [0,1,2,3,4,5,6,7,8,9,10,11,12,13,14,15,16,17], "range": [909.0,932.0,948.3,969.2,985.6,1006.4,1022.2,1042.2,1058.6,1080.1,1095.2,1113.7,1132.1,1150.9,1168.8,1097.3,60.2,50.2], "nice": false, "zero": false}, "axis": null}
      },
      "layer": [
        {"transform": [{"filter": "datum.kind === 'rule'"}], "mark": {"type": "rule", "strokeWidth": 3, "stroke": "#8a8a8a"}, "encoding": {"x2": {"field": "col2"}}},
        {"transform": [{"filter": "datum.kind === 'head' || datum.kind === 'label'"}], "mark": {"type": "text", "align": "left", "baseline": "middle", "fontSize": 28.8, "fontWeight": "bold"}, "encoding": {"text": {"field": "text"}}},
        {"transform": [{"filter": "datum.kind === 'value'"}], "mark": {"type": "text", "align": "left", "baseline": "middle", "fontSize": 28.8}, "encoding": {"text": {"field": "text"}}},
        {"transform": [{"filter": "datum.kind === 'p'"}], "mark": {"type": "text", "align": "left", "baseline": "middle", "fontSize": 28.8, "fontStyle": "italic"}, "encoding": {"text": {"field": "text"}}},
        {"transform": [{"filter": "datum.kind === 'letter'"}], "mark": {"type": "text", "align": "left", "baseline": "alphabetic", "fontSize": 45}, "encoding": {"text": {"field": "text"}}},
        {"transform": [{"filter": "datum.kind === 'title'"}], "mark": {"type": "text", "align": "center", "baseline": "alphabetic", "fontSize": 27.3, "fontWeight": "bold"}, "encoding": {"text": {"field": "text"}}}
      ]
    },
    {
      "width": 1050.5, "height": 1282.0,
      "encoding": {
        "x": {"field": "t", "type": "quantitative", "scale": {"domain": [-10.8, 211.4], "nice": false, "zero": false},
              "axis": {"values": [0, 50, 100, 150, 200], "format": "d", "title": "Survival (months)", "offset": -477.8, "domainColor": "#a0a0a0", "domainWidth": 2, "labelFontSize": 21, "labelPadding": 13, "titleFontSize": 28, "titlePadding": 26.9}},
        "y": {"field": "s", "type": "quantitative", "scale": {"domain": [-0.0563, 1.0568], "range": [804.2, 60.2], "nice": false, "zero": false},
              "axis": {"values": [0, 0.2, 0.4, 0.6, 0.8, 1], "format": ".1f", "title": "Survival rate", "domainColor": "#a0a0a0", "domainWidth": 1.4, "labelFontSize": 21, "labelPadding": 9.9, "titleFont": "DejaVu Sans", "titleFontSize": 24.2, "titlePadding": 30.9}}
      },
      "layer": [
        {"data": {"values": [{"s":0,"t":-10.8,"t2":211.4},{"s":0.2,"t":-10.8,"t2":211.4},{"s":0.4,"t":-10.8,"t2":211.4},{"s":0.6,"t":-10.8,"t2":211.4},{"s":0.8,"t":-10.8,"t2":211.4},{"s":1,"t":-10.8,"t2":211.4}]}, "mark": {"type": "rule", "stroke": "#cfcfcf", "strokeWidth": 2}, "encoding": {"x2": {"field": "t2"}}},
        {
          "data": {"values": [
            {"grp":"IV","t":0,"s":1},{"grp":"IV","t":4.9,"s":0.964},{"grp":"IV","t":6.9,"s":0.929},{"grp":"IV","t":7.3,"s":0.893},{"grp":"IV","t":9.8,"s":0.857},{"grp":"IV","t":18.4,"s":0.821},{"grp":"IV","t":19.6,"s":0.783},{"grp":"IV","t":30.2,"s":0.745},{"grp":"IV","t":35.1,"s":0.706},{"grp":"IV","t":44.3,"s":0.665},{"grp":"IV","t":51.8,"s":0.621},{"grp":"IV","t":56.9,"s":0.576},{"grp":"IV","t":58.0,"s":0.532},{"grp":"IV","t":60.8,"s":0.486},{"grp":"IV","t":76.7,"s":0.443},{"grp":"IV","t":79.0,"s":0.399},{"grp":"IV","t":92.7,"s":0.332},{"grp":"IV","t":132.2,"s":0.222},{"grp":"IV","t":167.1,"s":0.11},{"grp":"IV","t":182.0,"s":0.11},
            {"grp":"II","t":0,"s":1},{"grp":"II","t":15.9,"s":0.667},{"grp":"II","t":131.2,"s":0.667},
            {"grp":"I","t":0,"s":1},{"grp":"I","t":14.7,"s":0.91},{"grp":"I","t":145.7,"s":0.91},
            {"grp":"III","t":0,"s":1},{"grp":"III","t":188.4,"s":0}
          ]},
          "mark": {"type": "line", "interpolate": "step-after", "strokeWidth": 1.9},
          "encoding": {"color": {"field": "grp", "type": "nominal",
            "scale": {"domain": ["I","II","III","IV","I-censored","II-censored","III-censored","IV-censored"], "range": ["#1f88cf","#2d7a73","#c2386c","#f27983","#1f88cf","#2d7a73","#c2386c","#f27983"]},
            "legend": {"title": "TNM", "orient": "none", "legendX": 1184.0, "legendY": 73.5, "titleFontSize": 30, "titleFontWeight": "bold", "titleAnchor": "middle", "titleAlign": "center", "titlePadding": 4.75, "labelFontSize": 24.5, "labelOffset": 8.85, "symbolSize": 1346, "rowPadding": 0}}}
        },
        {
          "data": {"values": [
            {"grp":"I-censored","t":9.2,"s":1},{"grp":"I-censored","t":30.4,"s":0.91},{"grp":"I-censored","t":47.8,"s":0.91},{"grp":"I-censored","t":62.7,"s":0.91},{"grp":"I-censored","t":81.2,"s":0.91},{"grp":"I-censored","t":98.8,"s":0.91},{"grp":"I-censored","t":120.2,"s":0.91},{"grp":"I-censored","t":120.8,"s":0.91},{"grp":"I-censored","t":125.1,"s":0.91},{"grp":"I-censored","t":145.7,"s":0.91},
            {"grp":"II-censored","t":126.7,"s":0.667},{"grp":"II-censored","t":131.2,"s":0.667},
            {"grp":"III-censored","t":20.4,"s":1},{"grp":"III-censored","t":21.2,"s":1},{"grp":"III-censored","t":34.3,"s":1},{"grp":"III-censored","t":35.3,"s":1},{"grp":"III-censored","t":38.6,"s":1},{"grp":"III-censored","t":44.9,"s":1},{"grp":"III-censored","t":50.6,"s":1},
            {"grp":"IV-censored","t":17.3,"s":0.857},{"grp":"IV-censored","t":29.8,"s":0.783},{"grp":"IV-censored","t":39.4,"s":0.706},{"grp":"IV-censored","t":44.6,"s":0.665},{"grp":"IV-censored","t":80.0,"s":0.399},{"grp":"IV-censored","t":83.7,"s":0.399},{"grp":"IV-censored","t":86.1,"s":0.399},{"grp":"IV-censored","t":95.7,"s":0.332},{"grp":"IV-censored","t":104.1,"s":0.332},{"grp":"IV-censored","t":182.0,"s":0.11}
          ]},
          "mark": {"type": "point", "shape": "M0,-1V1M-0.3,0H0.3", "filled": false, "size": 144, "strokeWidth": 1.8, "opacity": 1},
          "encoding": {"color": {"field": "grp", "type": "nominal", "scale": {"domain": ["I","II","III","IV","I-censored","II-censored","III-censored","IV-censored"], "range": ["#1f88cf","#2d7a73","#c2386c","#f27983","#1f88cf","#2d7a73","#c2386c","#f27983"]}, "legend": null}}
        },
        {
          "data": {"values": []},
          "mark": {"type": "point", "filled": false, "strokeWidth": 1.8, "opacity": 1},
          "encoding": {
            "color": {"field": "grp", "type": "nominal",
              "scale": {"domain": ["I","II","III","IV","I-censored","II-censored","III-censored","IV-censored"], "range": ["#1f88cf","#2d7a73","#c2386c","#f27983","#1f88cf","#2d7a73","#c2386c","#f27983"]},
              "legend": {"title": "TNM", "orient": "none", "legendX": 1184.0, "legendY": 73.5, "titleFontSize": 30, "titleFontWeight": "bold", "titleAnchor": "middle", "titleAlign": "center", "titlePadding": 4.75, "labelFontSize": 24.5, "labelOffset": 8.85, "symbolSize": 1346, "rowPadding": 0}},
            "shape": {"field": "grp", "type": "nominal",
              "scale": {"domain": ["I","II","III","IV","I-censored","II-censored","III-censored","IV-censored"], "range": ["M-1.234,0.296H0V-0.296H1.234V0.296","M-1.234,0.296H0V-0.296H1.234V0.296","M-1.234,0.296H0V-0.296H1.234V0.296","M-1.234,0.296H0V-0.296H1.234V0.296","M-1.234,0H1.234M0,-0.53V0.53","M-1.234,0H1.234M0,-0.53V0.53","M-1.234,0H1.234M0,-0.53V0.53","M-1.234,0H1.234M0,-0.53V0.53"]},
              "legend": {"title": "TNM", "orient": "none", "legendX": 1184.0, "legendY": 73.5, "titleFontSize": 30, "titleFontWeight": "bold", "titleAnchor": "middle", "titleAlign": "center", "titlePadding": 4.75, "labelFontSize": 24.5, "labelOffset": 8.85, "symbolSize": 1346, "rowPadding": 0}}
          }
        }
      ]
    }
  ]
}
]
}
